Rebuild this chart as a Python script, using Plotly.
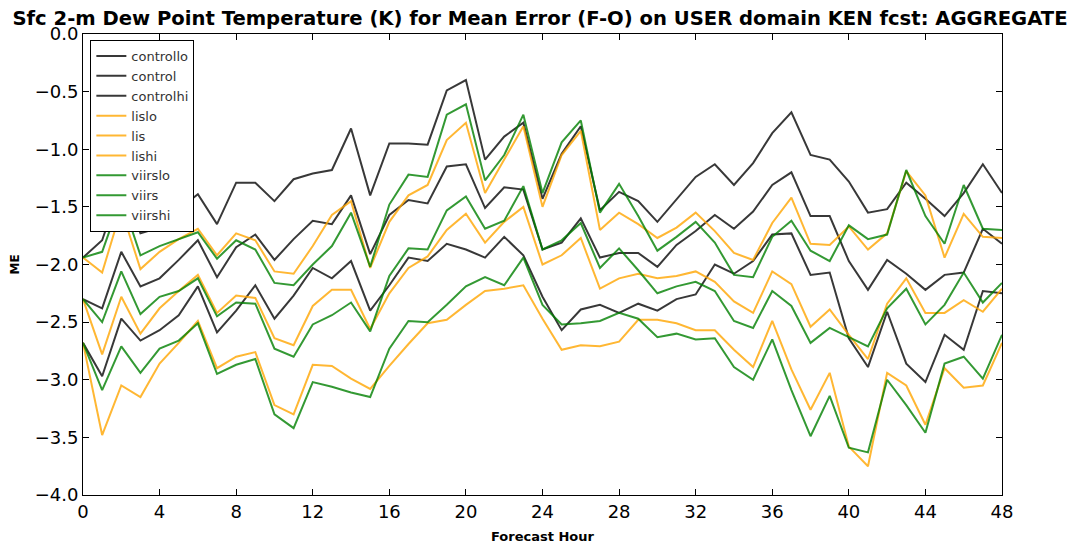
import plotly.graph_objects as go

hours = list(range(49))

controllo = [-2.68, -2.97, -2.47, -2.66, -2.57, -2.44, -2.19, -2.59, -2.40, -2.18,
             -2.47, -2.27, -2.03, -2.12, -1.97, -2.40, -2.18, -1.94, -1.97, -1.82,
             -1.87, -1.94, -1.76, -1.92, -2.28, -2.57, -2.39, -2.35, -2.42, -2.34,
             -2.40, -2.30, -2.26, -2.00, -2.08, -1.97, -1.74, -1.73, -2.09, -2.07,
             -2.64, -2.89, -2.41, -2.86, -3.02, -2.61, -2.74, -2.23, -2.25]
control = [-2.30, -2.38, -1.89, -2.19, -2.12, -1.96, -1.79, -2.11, -1.85, -1.74,
           -1.96, -1.78, -1.62, -1.65, -1.40, -1.91, -1.57, -1.44, -1.47, -1.15,
           -1.13, -1.51, -1.33, -1.35, -1.87, -1.81, -1.60, -1.94, -1.90, -1.90,
           -2.02, -1.83, -1.71, -1.57, -1.69, -1.54, -1.31, -1.20, -1.58, -1.58,
           -1.97, -2.22, -1.96, -2.08, -2.22, -2.09, -2.07, -1.69, -1.82]
controlhi = [-1.94, -1.79, -1.30, -1.73, -1.68, -1.52, -1.39, -1.65, -1.29, -1.29,
             -1.45, -1.26, -1.21, -1.18, -0.82, -1.40, -0.95, -0.95, -0.96, -0.49,
             -0.40, -1.09, -0.89, -0.77, -1.43, -1.04, -0.80, -1.53, -1.37, -1.45,
             -1.63, -1.43, -1.24, -1.13, -1.31, -1.12, -0.86, -0.68, -1.05, -1.09,
             -1.28, -1.55, -1.52, -1.29, -1.43, -1.58, -1.38, -1.13, -1.38]
lislo = [-2.68, -3.48, -3.05, -3.15, -2.86, -2.68, -2.49, -2.90, -2.80, -2.76,
         -3.22, -3.30, -2.87, -2.88, -2.99, -3.08, -2.88, -2.69, -2.51, -2.48,
         -2.35, -2.23, -2.21, -2.18, -2.47, -2.74, -2.70, -2.71, -2.67, -2.48,
         -2.48, -2.51, -2.57, -2.57, -2.74, -2.89, -2.49, -2.91, -3.26, -2.94,
         -3.58, -3.75, -2.94, -3.05, -3.39, -2.90, -3.07, -3.05, -2.68]
lis = [-2.30, -2.78, -2.28, -2.60, -2.38, -2.23, -2.09, -2.42, -2.27, -2.29,
       -2.64, -2.70, -2.36, -2.22, -2.22, -2.56, -2.25, -2.03, -1.93, -1.70,
       -1.56, -1.81, -1.63, -1.50, -2.00, -1.92, -1.77, -2.21, -2.12, -2.08,
       -2.12, -2.10, -2.06, -2.15, -2.32, -2.42, -2.06, -2.17, -2.54, -2.39,
       -2.61, -2.82, -2.34, -2.12, -2.42, -2.42, -2.31, -2.41, -2.21]
lishi = [-1.94, -2.07, -1.52, -2.04, -1.89, -1.78, -1.69, -1.92, -1.73, -1.79,
         -2.06, -2.08, -1.84, -1.57, -1.45, -2.03, -1.63, -1.40, -1.31, -0.92,
         -0.77, -1.38, -1.09, -0.80, -1.50, -1.05, -0.84, -1.70, -1.55, -1.65,
         -1.77, -1.68, -1.55, -1.71, -1.90, -1.96, -1.64, -1.42, -1.82, -1.83,
         -1.67, -1.87, -1.73, -1.19, -1.40, -1.94, -1.56, -1.76, -1.77]
viirslo = [-2.68, -3.09, -2.71, -2.94, -2.73, -2.66, -2.51, -2.95, -2.87, -2.82,
           -3.30, -3.42, -3.02, -3.06, -3.11, -3.15, -2.73, -2.49, -2.50, -2.35,
           -2.19, -2.11, -2.18, -1.94, -2.35, -2.52, -2.51, -2.49, -2.42, -2.47,
           -2.63, -2.60, -2.65, -2.64, -2.89, -3.00, -2.65, -3.09, -3.49, -3.14,
           -3.59, -3.63, -3.00, -3.22, -3.46, -2.86, -2.80, -2.99, -2.61]
viirs = [-2.30, -2.50, -2.06, -2.43, -2.28, -2.23, -2.12, -2.45, -2.33, -2.34,
         -2.73, -2.80, -2.52, -2.44, -2.33, -2.58, -2.10, -1.86, -1.87, -1.53,
         -1.41, -1.69, -1.62, -1.32, -1.87, -1.79, -1.64, -2.03, -1.86, -2.05,
         -2.25, -2.19, -2.15, -2.23, -2.49, -2.55, -2.23, -2.36, -2.68, -2.55,
         -2.63, -2.71, -2.38, -2.21, -2.52, -2.35, -2.07, -2.33, -2.16]
viirshi = [-1.94, -1.89, -1.42, -1.92, -1.84, -1.78, -1.72, -1.95, -1.79, -1.87,
           -2.16, -2.18, -2.00, -1.84, -1.55, -2.02, -1.48, -1.22, -1.24, -0.70,
           -0.61, -1.27, -1.05, -0.70, -1.38, -0.94, -0.75, -1.55, -1.30, -1.58,
           -1.88, -1.76, -1.63, -1.81, -2.09, -2.11, -1.76, -1.62, -1.88, -1.97,
           -1.66, -1.78, -1.74, -1.18, -1.58, -1.82, -1.31, -1.69, -1.70]

series = [
    ("controllo", controllo, "rgba(0,0,0,0.78)"),
    ("control", control, "rgba(0,0,0,0.78)"),
    ("controlhi", controlhi, "rgba(0,0,0,0.78)"),
    ("lislo", lislo, "rgba(255,165,0,0.8)"),
    ("lis", lis, "rgba(255,165,0,0.8)"),
    ("lishi", lishi, "rgba(255,165,0,0.8)"),
    ("viirslo", viirslo, "rgba(0,128,0,0.8)"),
    ("viirs", viirs, "rgba(0,128,0,0.8)"),
    ("viirshi", viirshi, "rgba(0,128,0,0.8)"),
]

x_ticks = list(range(0, 49, 4))
y_ticks = [-4.0, -3.5, -3.0, -2.5, -2.0, -1.5, -1.0, -0.5, 0.0]

fig = go.Figure()
for name, vals, color in series:
    fig.add_trace(go.Scatter(x=hours, y=vals, mode="lines", name=name,
                             line=dict(color=color, width=2)))

# the page body has an 8px margin, so the figure is 8px smaller than the window
W, H = 1072, 537
font_family = "DejaVu Sans"
fig.update_layout(
    width=W, height=H,
    margin=dict(l=75, r=78, t=26, b=50, autoexpand=False),
    paper_bgcolor="white", plot_bgcolor="white",
    font=dict(family=font_family, color="black"),
    title=dict(text="<b>Sfc 2-m Dew Point Temperature (K) for Mean Error (F-O) on USER domain KEN fcst: AGGREGATE</b>",
               x=532 / W, xanchor="center", xref="container", y=1 - 10 / H, yanchor="middle",
               font=dict(size=19.6, family=font_family, color="black")),
    legend=dict(x=0.008, y=0.987, xanchor="left", yanchor="top",
                bgcolor="white", bordercolor="black", borderwidth=1,
                font=dict(size=13, family=font_family, color="#333"),
                itemwidth=30, tracegroupgap=0),
    showlegend=True,
    annotations=[
        dict(text="<b>ME</b>", xref="paper", yref="paper", x=-0.074, y=0.5,
             textangle=-90, showarrow=False, xanchor="center", yanchor="middle",
             font=dict(size=12, family=font_family, color="black")),
        dict(text="<b>Forecast Hour</b>", xref="paper", yref="paper", x=0.5, y=-0.091,
             showarrow=False, xanchor="center", yanchor="middle",
             font=dict(size=13, family=font_family, color="black")),
    ],
)
fig.update_xaxes(range=[0, 48], tickvals=x_ticks, ticktext=[str(v) for v in x_ticks],
                 showgrid=False, zeroline=False, showline=True, linecolor="black",
                 linewidth=1, mirror="ticks", ticks="inside", ticklen=6,
                 tickcolor="black", tickfont=dict(size=18, family=font_family),
                 automargin=False)
fig.update_yaxes(range=[-4.0, 0.0], tickvals=y_ticks,
                 ticktext=[("\u2212" if v < 0 else "") + f"{abs(v):.1f}" for v in y_ticks],
                 showgrid=False, zeroline=False, showline=True, linecolor="black",
                 linewidth=1, mirror="ticks", ticks="inside", ticklen=6,
                 tickcolor="black", tickfont=dict(size=18, family=font_family),
                 automargin=False)

fig.write_html("out.html")
